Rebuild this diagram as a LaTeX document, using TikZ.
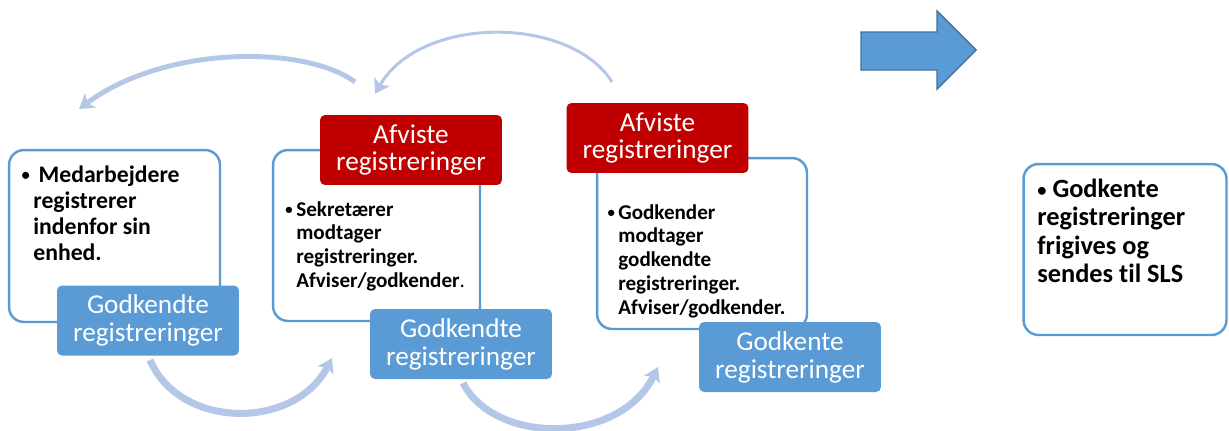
\documentclass[tikz,border=0pt]{standalone}
\usepackage{graphicx}
\usepackage{fontspec}
\setmainfont{Carlito}[Ligatures=NoCommon]
\usetikzlibrary{arrows.meta}

\definecolor{accent}{HTML}{5B9BD5}
\definecolor{rejred}{HTML}{C00000}
\definecolor{arcblue}{HTML}{B4C7E7}
\definecolor{edgeblue}{HTML}{41719C}

\newcommand{\smalldot}{\raisebox{0.12ex}{\scalebox{0.7}{\textbullet}}}
\newcommand{\bul}{\llap{\smalldot\hspace{2pt}}}

\begin{document}
\begin{tikzpicture}[x=0.02cm, y=-0.02cm,
  frame/.style={draw=accent, line width=1.4pt, rounded corners=0.3cm, fill=white, inner sep=0pt},
  okbox/.style={fill=accent, rounded corners=0.1cm, text=white, align=center, inner sep=0pt,
    minimum width=3.64cm, minimum height=1.4cm, font=\fontsize{15.5}{15.8}\selectfont},
  nobox/.style={okbox, fill=rejred},
  note/.style={anchor=north west, align=left, inner sep=0pt, font=\bfseries\fontsize{12}{13.5}\selectfont},
  loop/.style={draw=arcblue, line width=#1, -{Stealth[length=8pt, width=10pt, inset=2pt]}}]
\useasboundingbox (0,0) rectangle (1229,430);

% step 1
\node[frame, minimum width=4.22cm, minimum height=3.44cm] (f1) at (114.5,236) {};
\node[note, font=\bfseries\fontsize{13.5}{14.9}\selectfont] (t1) at (33,165)
  {\bul\hspace{3pt}Medarbejdere\\registrerer\\indenfor sin\\enhed.};
\node[okbox] (g1) at (148,320.5) {Godkendte\\registreringer};

% step 2
\node[frame, minimum width=4.14cm, minimum height=3.42cm] (f2) at (376.5,235.5) {};
\node[note] (t2) at (296,201)
  {\bul Sekretærer\\modtager\\registreringer.\\Afviser/godkender{\mdseries.}};
\node[nobox] (r2) at (411,150) {Afviste\\registreringer};
\node[okbox] (g2) at (461,344) {Godkendte\\registreringer};

% step 3
\node[frame, minimum width=4.2cm, minimum height=3.42cm] (f3) at (702,243.5) {};
\node[note] (t3) at (618,204)
  {\bul Godkender\\modtager\\godkendte\\registreringer.\\Afviser/godkender.};
\node[nobox] (r3) at (657.5,138) {Afviste\\registreringer};
\node[okbox] (g3) at (790,357) {Godkente\\registreringer};

% result
\draw[fill=accent, draw=edgeblue, line width=0.8pt]
  (861,32) -- (937,32) -- (937,11) -- (976,50) -- (937,89) -- (937,70) -- (861,70) -- cycle;
\node[frame, minimum width=4.06cm, minimum height=3.42cm] (f4) at (1125,249.5) {};
\node[note, font=\bfseries\fontsize{15}{16}\selectfont] (t4) at (1037,179)
  {\smalldot\ Godkente\\registreringer\\frigives og\\sendes til SLS};

% loops
\coordinate (a1s) at (150,360);
\coordinate (a1e) at (332,358);
\coordinate (a2s) at (463,383);
\coordinate (a2e) at (658,367);
\coordinate (b1s) at (355,82);
\coordinate (b1e) at (79,109);
\coordinate (b2s) at (612,82);
\coordinate (b2e) at (375,94);

\draw[loop=4pt] (a1s) .. controls (180,430) and (295,430) .. (a1e);
\draw[loop=4pt] (a2s) .. controls (495,445) and (620,445) .. (a2e);
\draw[loop=2.8pt] (b1s) .. controls (305,45) and (165,45) .. (b1e);
\draw[loop=1.7pt] (b2s) .. controls (570,15) and (420,15) .. (b2e);
\end{tikzpicture}
\end{document}
